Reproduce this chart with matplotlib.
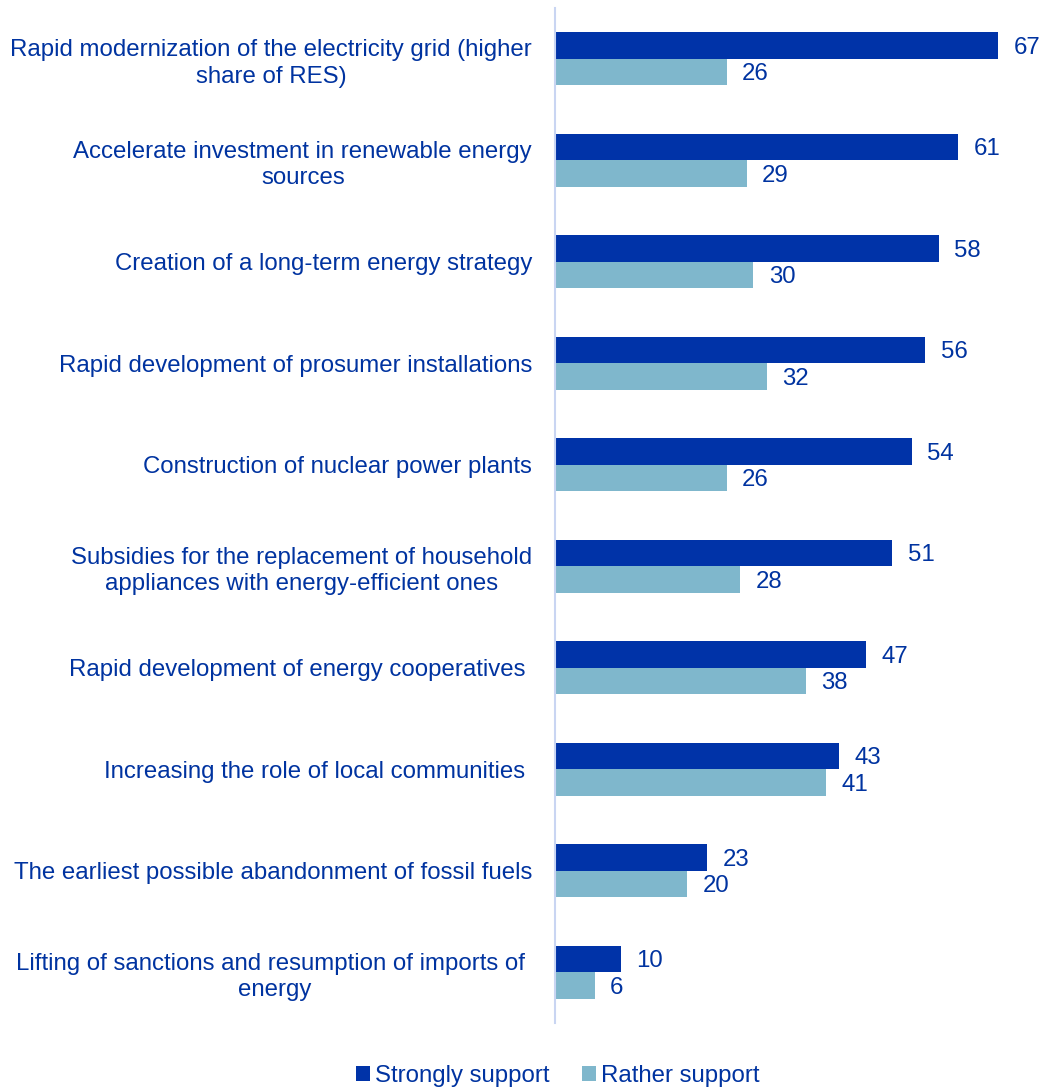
import matplotlib.pyplot as plt
import numpy as np

plt.rcParams['font.family'] = ['Liberation Sans', 'DejaVu Sans']

# Données
categories = [
    "Rapid modernization of the electricity grid (higher\nshare of RES)",
    "Accelerate investment in renewable energy\nsources",
    "Creation of a long-term energy strategy",
    "Rapid development of prosumer installations",
    "Construction of nuclear power plants",
    "Subsidies for the replacement of household\nappliances with energy-efficient ones",
    "Rapid development of energy cooperatives ",
    "Increasing the role of local communities ",
    "The earliest possible abandonment of fossil fuels",
    "Lifting of sanctions and resumption of imports of \nenergy",
]
strongly = [67, 61, 58, 56, 54, 51, 47, 43, 23, 10]
rather = [26, 29, 30, 32, 26, 28, 38, 41, 20, 6]
series_names = ["Strongly support", "Rather support"]

dark = "#0033A8"
light = "#7FB7CC"
text_col = "#0033A0"
fs = 17.3

fig = plt.figure(figsize=(10.46, 10.88), dpi=100)
ax = fig.add_axes([555 / 1046, 1 - 1023 / 1088, 486 / 1046, 1015 / 1088])

y = np.arange(len(categories))
h = 0.26
b1 = ax.barh(y - h / 2, strongly, height=h, color=dark, label=series_names[0])
b2 = ax.barh(y + h / 2, rather, height=h, color=light, label=series_names[1])

# étiquettes de valeurs
for yy, v1, v2 in zip(y, strongly, rather):
    ax.annotate(str(v1), (v1, yy - h / 2), xytext=(11, -1.5), textcoords='offset points',
                va='center', fontsize=fs, color=text_col)
    ax.annotate(str(v2), (v2, yy + h / 2), xytext=(11, -1.5), textcoords='offset points',
                va='center', fontsize=fs, color=text_col)

ax.set_xlim(0, 73.5)
ax.set_ylim(len(categories) - 0.5, -0.5)
ax.set_xticks([])
ax.set_yticks(y)
ax.set_yticklabels(categories, fontsize=fs, color=text_col,
                   multialignment='center', linespacing=1.25)
ax.tick_params(axis='y', length=0, pad=16.5)

for s in ['top', 'right', 'bottom']:
    ax.spines[s].set_visible(False)
ax.spines['left'].set_color("#C9D5F2")
ax.spines['left'].set_linewidth(1.5)

fig.legend(handles=[b1, b2], labels=series_names, loc='center',
           bbox_to_anchor=(0.533, 0.011), ncol=2, frameon=False,
           fontsize=fs, labelcolor=text_col, handlelength=0.6, handleheight=0.6,
           handletextpad=0.2, columnspacing=1.35)

plt.savefig("out.png", dpi=100)
